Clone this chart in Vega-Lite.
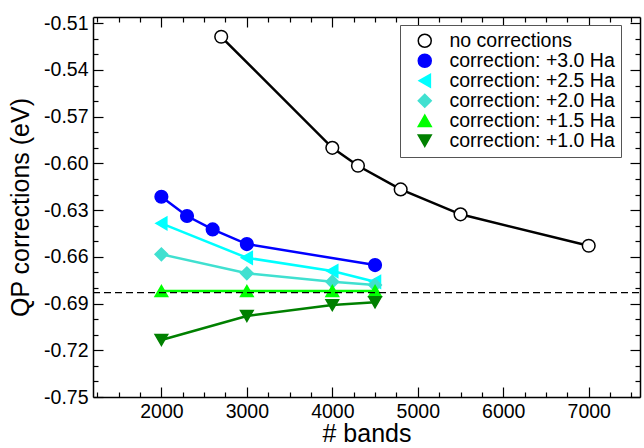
{
  "$schema": "https://vega.github.io/schema/vega-lite/v6.json",
  "width": 547,
  "height": 380,
  "autosize": {"type": "none"},
  "padding": {"left": 93, "top": 17, "right": 4, "bottom": 51},
  "background": "white",
  "config": {"view": {"stroke": null}, "font": "Liberation Sans"},
  "data": {
    "values": [
      {"series": "no corrections", "bands": 2700, "qp": -0.5187},
      {"series": "no corrections", "bands": 4000, "qp": -0.590},
      {"series": "no corrections", "bands": 4300, "qp": -0.6015},
      {"series": "no corrections", "bands": 4800, "qp": -0.6167},
      {"series": "no corrections", "bands": 5500, "qp": -0.6327},
      {"series": "no corrections", "bands": 7000, "qp": -0.6529},
      {"series": "correction: +3.0 Ha", "bands": 2000, "qp": -0.6214},
      {"series": "correction: +3.0 Ha", "bands": 2300, "qp": -0.6338},
      {"series": "correction: +3.0 Ha", "bands": 2600, "qp": -0.6424},
      {"series": "correction: +3.0 Ha", "bands": 3000, "qp": -0.6518},
      {"series": "correction: +3.0 Ha", "bands": 4500, "qp": -0.6653},
      {"series": "correction: +2.5 Ha", "bands": 2000, "qp": -0.6385},
      {"series": "correction: +2.5 Ha", "bands": 3000, "qp": -0.6606},
      {"series": "correction: +2.5 Ha", "bands": 4000, "qp": -0.6691},
      {"series": "correction: +2.5 Ha", "bands": 4500, "qp": -0.676},
      {"series": "correction: +2.0 Ha", "bands": 2000, "qp": -0.6584},
      {"series": "correction: +2.0 Ha", "bands": 3000, "qp": -0.6706},
      {"series": "correction: +2.0 Ha", "bands": 4000, "qp": -0.676},
      {"series": "correction: +2.0 Ha", "bands": 4500, "qp": -0.6781},
      {"series": "correction: +1.5 Ha", "bands": 2000, "qp": -0.682},
      {"series": "correction: +1.5 Ha", "bands": 3000, "qp": -0.682},
      {"series": "correction: +1.5 Ha", "bands": 4000, "qp": -0.682},
      {"series": "correction: +1.5 Ha", "bands": 4500, "qp": -0.682},
      {"series": "correction: +1.0 Ha", "bands": 2000, "qp": -0.7134},
      {"series": "correction: +1.0 Ha", "bands": 3000, "qp": -0.698},
      {"series": "correction: +1.0 Ha", "bands": 4000, "qp": -0.691},
      {"series": "correction: +1.0 Ha", "bands": 4500, "qp": -0.6892}
    ]
  },
  "resolve": {"axis": {"x": "independent", "y": "independent"}},
  "layer": [
    {
      "mark": {"type": "line", "strokeWidth": 2.5},
      "encoding": {
        "x": {
          "field": "bands", "type": "quantitative",
          "scale": {"domain": [1200, 7600], "nice": false, "zero": false},
          "axis": {
            "orient": "bottom",
            "values": [2000, 3000, 4000, 5000, 6000, 7000],
            "format": "d",
            "ticks": false,
            "labelFontSize": 19.5, "labelColor": "black", "labelPadding": 5,
            "labelOverlap": false, "labelFlush": false,
            "title": "# bands", "titleFontSize": 25, "titleFontWeight": "normal", "titleColor": "black", "titlePadding": 1,
            "grid": false, "domainColor": "black", "domainWidth": 1.5
          }
        },
        "y": {
          "field": "qp", "type": "quantitative",
          "scale": {"domain": [-0.75, -0.506], "nice": false, "zero": false},
          "axis": {
            "orient": "left",
            "values": [-0.75, -0.72, -0.69, -0.66, -0.63, -0.60, -0.57, -0.54, -0.51],
            "ticks": false,
            "labelExpr": "'-' + format(-datum.value, '.2f')",
            "labelFontSize": 19.5, "labelColor": "black", "labelPadding": 5,
            "labelOverlap": false, "labelFlush": false,
            "title": "QP corrections (eV)", "titleFontSize": 25, "titleFontWeight": "normal", "titleColor": "black", "titlePadding": 10,
            "grid": false, "domainColor": "black", "domainWidth": 1.5
          }
        },
        "stroke": {
          "field": "series", "type": "nominal",
          "scale": {
            "domain": ["no corrections", "correction: +3.0 Ha", "correction: +2.5 Ha", "correction: +2.0 Ha", "correction: +1.5 Ha", "correction: +1.0 Ha"],
            "range": ["#000000", "#0000ff", "#00ffff", "#40e0d0", "#00ff00", "#008000"]
          },
          "legend": {
            "orient": "none", "legendX": 307, "legendY": 8, "title": null,
            "labelFontSize": 19.5, "labelColor": "black", "labelOffset": 15, "labelLimit": 400,
            "symbolSize": 169, "symbolStrokeWidth": 1.5, "symbolOffset": 9,
            "padding": 6, "strokeColor": "#555555", "fillColor": "white", "rowPadding": -4
          }
        }
      }
    },
    {
      "mark": {"type": "point", "size": 160, "strokeWidth": 1.5, "opacity": 1, "fillOpacity": 1},
      "encoding": {
        "x": {
          "field": "bands", "type": "quantitative",
          "axis": {
            "orient": "top",
            "values": [1250,1500,1750,2000,2250,2500,2750,3000,3250,3500,3750,4000,4250,4500,4750,5000,5250,5500,5750,6000,6250,6500,6750,7000,7250,7500],
            "tickSize": {"condition": {"test": "datum.value % 1000 === 0", "value": -10}, "value": -5},
            "labels": false, "title": null, "grid": false,
            "domainColor": "black", "domainWidth": 1.5, "tickColor": "black", "tickWidth": 1.2
          }
        },
        "y": {
          "field": "qp", "type": "quantitative",
          "axis": {
            "orient": "right",
            "values": [-0.75,-0.74,-0.73,-0.72,-0.71,-0.70,-0.69,-0.68,-0.67,-0.66,-0.65,-0.64,-0.63,-0.62,-0.61,-0.60,-0.59,-0.58,-0.57,-0.56,-0.55,-0.54,-0.53,-0.52,-0.51],
            "tickSize": {"condition": {"test": "abs(round(datum.value * 100)) % 3 === 0", "value": -10}, "value": -5},
            "labels": false, "title": null, "grid": false,
            "domainColor": "black", "domainWidth": 1.5, "tickColor": "black", "tickWidth": 1.2
          }
        },
        "stroke": {
          "field": "series", "type": "nominal",
          "legend": {
            "orient": "none", "legendX": 307, "legendY": 8, "title": null,
            "labelFontSize": 19.5, "labelColor": "black", "labelOffset": 15, "labelLimit": 400,
            "symbolSize": 169, "symbolStrokeWidth": 1.5, "symbolOffset": 9,
            "padding": 6, "strokeColor": "#555555", "fillColor": "white", "rowPadding": -4
          }
        },
        "fill": {
          "field": "series", "type": "nominal",
          "scale": {
            "domain": ["no corrections", "correction: +3.0 Ha", "correction: +2.5 Ha", "correction: +2.0 Ha", "correction: +1.5 Ha", "correction: +1.0 Ha"],
            "range": ["#ffffff", "#0000ff", "#00ffff", "#40e0d0", "#00ff00", "#008000"]
          },
          "legend": {
            "orient": "none", "legendX": 307, "legendY": 8, "title": null,
            "labelFontSize": 19.5, "labelColor": "black", "labelOffset": 15, "labelLimit": 400,
            "symbolSize": 169, "symbolStrokeWidth": 1.5, "symbolOffset": 9,
            "padding": 6, "strokeColor": "#555555", "fillColor": "white", "rowPadding": -4
          }
        },
        "shape": {
          "field": "series", "type": "nominal",
          "scale": {
            "domain": ["no corrections", "correction: +3.0 Ha", "correction: +2.5 Ha", "correction: +2.0 Ha", "correction: +1.5 Ha", "correction: +1.0 Ha"],
            "range": ["circle", "circle", "triangle-left", "diamond", "triangle-up", "triangle-down"]
          },
          "legend": null
        }
      }
    },
    {
      "data": {"values": [{"level": -0.683, "from": 1200, "to": 7600}]},
      "mark": {"type": "rule", "color": "black", "strokeWidth": 1.3, "strokeDash": [7, 4]},
      "encoding": {
        "x": {
          "field": "from", "type": "quantitative",
          "axis": {
            "orient": "bottom",
            "values": [1250,1500,1750,2000,2250,2500,2750,3000,3250,3500,3750,4000,4250,4500,4750,5000,5250,5500,5750,6000,6250,6500,6750,7000,7250,7500],
            "tickSize": {"condition": {"test": "datum.value % 1000 === 0", "value": -10}, "value": -5},
            "labels": false, "title": null, "grid": false, "domain": false,
            "tickColor": "black", "tickWidth": 1.2
          }
        },
        "x2": {"field": "to"},
        "y": {
          "field": "level", "type": "quantitative",
          "axis": {
            "orient": "left",
            "values": [-0.75,-0.74,-0.73,-0.72,-0.71,-0.70,-0.69,-0.68,-0.67,-0.66,-0.65,-0.64,-0.63,-0.62,-0.61,-0.60,-0.59,-0.58,-0.57,-0.56,-0.55,-0.54,-0.53,-0.52,-0.51],
            "tickSize": {"condition": {"test": "abs(round(datum.value * 100)) % 3 === 0", "value": -10}, "value": -5},
            "labels": false, "title": null, "grid": false, "domain": false,
            "tickColor": "black", "tickWidth": 1.2
          }
        }
      }
    }
  ]
}
